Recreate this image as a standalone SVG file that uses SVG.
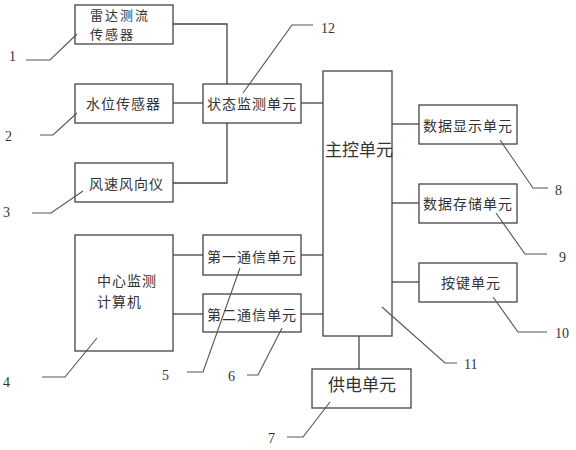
<svg xmlns="http://www.w3.org/2000/svg" width="576" height="450" viewBox="0 0 576 450">
<style>
.box{fill:#fff;stroke:#444;stroke-width:1.3}
.ln{fill:none;stroke:#444;stroke-width:1.3}
.ld{fill:none;stroke:#555;stroke-width:1.1}
.t{font-family:"Noto Sans CJK SC","Liberation Sans",sans-serif;font-size:14px;letter-spacing:1px;fill:#333}
.ts{font-family:"Noto Sans CJK SC","Liberation Sans",sans-serif;font-size:13px;letter-spacing:2px;fill:#333}
.tb{font-family:"Noto Sans CJK SC","Liberation Sans",sans-serif;font-size:17px;fill:#333}
.n{font-family:"Liberation Serif",serif;font-size:14px;fill:#333}
</style>
<rect width="576" height="450" fill="#fff"/>
<g id="connectors">
<polyline class="ln" points="173,24 227,24 227,84"/>
<line class="ln" x1="173" y1="103" x2="203" y2="103"/>
<polyline class="ln" points="173,183 227,183 227,123"/>
<line class="ln" x1="301" y1="103" x2="323" y2="103"/>
<line class="ln" x1="173" y1="255" x2="203" y2="255"/>
<line class="ln" x1="173" y1="314" x2="203" y2="314"/>
<line class="ln" x1="301" y1="255" x2="323" y2="255"/>
<line class="ln" x1="301" y1="314" x2="323" y2="314"/>
<line class="ln" x1="392" y1="124" x2="419" y2="124"/>
<line class="ln" x1="392" y1="203" x2="419" y2="203"/>
<line class="ln" x1="392" y1="282" x2="419" y2="282"/>
<line class="ln" x1="359" y1="336" x2="359" y2="369"/>
</g>
<g id="n_radar"><rect class="box" x="75" y="5" width="98" height="39"/><text class="ts" x="90" y="20">雷达测流</text><text class="ts" x="90" y="39">传感器</text></g>
<g id="n_water"><rect class="box" x="75" y="84" width="98" height="39"/><text class="t" x="86" y="109">水位传感器</text></g>
<g id="n_wind"><rect class="box" x="75" y="163" width="98" height="39"/><text class="t" x="89" y="189">风速风向仪</text></g>
<g id="n_state"><rect class="box" x="203" y="84" width="98" height="39"/><text class="t" x="207" y="109">状态监测单元</text></g>
<g id="n_main"><rect class="box" x="323" y="71" width="69" height="265"/><text class="tb" x="325" y="156">主控单元</text></g>
<g id="n_center"><rect class="box" x="75" y="235" width="98" height="116"/><text class="t" x="97" y="286">中心监测</text><text class="t" x="97" y="307">计算机</text></g>
<g id="n_comm1"><rect class="box" x="203" y="235" width="98" height="40"/><text class="t" x="207" y="262">第一通信单元</text></g>
<g id="n_comm2"><rect class="box" x="203" y="294" width="98" height="38"/><text class="t" x="207" y="320">第二通信单元</text></g>
<g id="n_disp"><rect class="box" x="419" y="105" width="98" height="39"/><text class="t" x="423" y="131">数据显示单元</text></g>
<g id="n_store"><rect class="box" x="419" y="184" width="98" height="39"/><text class="t" x="423" y="209">数据存储单元</text></g>
<g id="n_key"><rect class="box" x="419" y="263" width="98" height="39"/><text class="t" x="441" y="288">按键单元</text></g>
<g id="n_power"><rect class="box" x="312" y="369" width="99" height="39"/><text class="tb" x="328" y="391">供电单元</text></g>
<g id="leaders">
<polyline class="ld" points="26,60 50,60 77,34"/>
<polyline class="ld" points="40,135 53,135 77,113"/>
<polyline class="ld" points="32,213 51,213 83,191"/>
<polyline class="ld" points="243,93 292,25 313,25"/>
<polyline class="ld" points="97,338 65,377 42,377"/>
<polyline class="ld" points="240,268 203,372 187,372"/>
<polyline class="ld" points="282,328 258,375 247,375"/>
<polyline class="ld" points="330,402 303,437 287,437"/>
<polyline class="ld" points="500,140 533,188 548,188"/>
<polyline class="ld" points="496,213 525,254 547,254"/>
<polyline class="ld" points="493,297 518,332 547,332"/>
<polyline class="ld" points="382,307 445,363 457,363"/>
</g>
<g id="labels">
<text class="n" x="9" y="61">1</text>
<text class="n" x="5" y="141">2</text>
<text class="n" x="3" y="217">3</text>
<text class="n" x="3" y="387">4</text>
<text class="n" x="162" y="380">5</text>
<text class="n" x="228" y="381">6</text>
<text class="n" x="268" y="443">7</text>
<text class="n" x="555" y="195">8</text>
<text class="n" x="559" y="262">9</text>
<text class="n" x="555" y="338">10</text>
<text class="n" x="464" y="369">11</text>
<text class="n" x="321" y="33">12</text>
</g>
</svg>
